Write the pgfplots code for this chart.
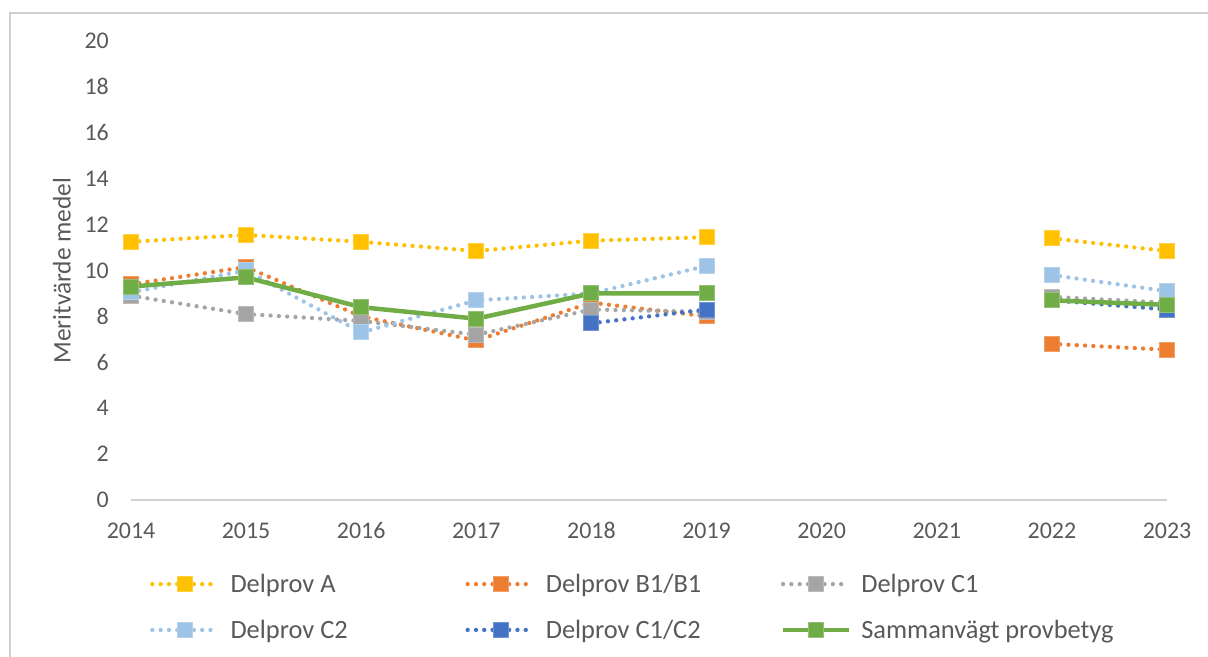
\documentclass[border=0pt]{standalone}
\usepackage{pgfplots}
\pgfplotsset{compat=1.18}
\usepackage{fontspec}
\setmainfont{Carlito}
\definecolor{txt}{HTML}{595959}
\definecolor{cA}{HTML}{FFC000}
\definecolor{cB}{HTML}{ED7D31}
\definecolor{cC}{HTML}{A5A5A5}
\definecolor{cD}{HTML}{9DC3E6}
\definecolor{cE}{HTML}{4472C4}
\definecolor{cF}{HTML}{70AD47}
\definecolor{frame}{HTML}{D0D0D0}
\begin{document}
\begin{tikzpicture}[x=1bp,y=1bp]
\useasboundingbox (0,0) rectangle (1208,657);
\draw[frame, line width=1.5bp] (10,-5) -- (10,644) -- (1215,644);
\begin{axis}[
  at={(131bp,157bp)}, anchor=south west,
  scale only axis, width=1036bp, height=459bp,
  xmin=0, xmax=9, ymin=0, ymax=20,
  enlargelimits=false,
  unbounded coords=jump,
  axis y line*=left,
  axis x line*=bottom,
  y axis line style={draw=none},
  x axis line style={draw=frame, line width=1.5bp, -},
  xtick={0,...,9},
  xticklabels={2014,2015,2016,2017,2018,2019,2020,2021,2022,2023},
  ytick={0,2,...,20},
  major tick length=0pt,
  /pgf/number format/assume math mode=true,
  every tick label/.append style={font=\fontsize{24}{28}\selectfont, text=txt},
  xticklabel style={anchor=base, inner sep=0pt, yshift=-39bp},
  yticklabel style={anchor=east, inner sep=0pt, xshift=-22bp},
  ylabel={Meritvärde medel},
  ylabel style={at={(axis description cs:0,0.5)}, anchor=center, rotate=0, yshift=69bp, font=\fontsize{25.5}{30}\selectfont, text=txt},
  legend columns=3,
  legend style={at={(axis description cs:0,0)}, anchor=north west, xshift=19bp, yshift=-74bp,
    draw=none, fill=none, inner sep=0pt, row sep=26bp,
    nodes={inner sep=0pt, text=txt, font=\fontsize{26.5}{30}\selectfont},
    /tikz/every odd column/.append style={column sep=10bp},
    /tikz/every even column/.append style={column sep=0bp}},
  legend cell align=left,
  legend image code/.code={\draw[mark repeat=2,mark phase=2,#1] plot coordinates {(0bp,0bp) (33bp,0bp) (66bp,0bp)};},
  dotline/.style={line width=4.3bp, dash pattern=on 0pt off 8.3bp, line cap=round},
  sq/.style={mark=square*, mark size=7.5bp, mark options={solid, line width=1bp, line cap=butt, line join=miter, fill=#1, draw=#1!75!white}},
]
\addplot[cA, dotline, sq=cA] coordinates {(0,11.25) (1,11.55) (2,11.25) (3,10.85) (4,11.3) (5,11.45) (6,nan) (7,nan) (8,11.4) (9,10.85)};
\addlegendentry{\makebox[235bp][l]{Delprov A}}
\addplot[cB, dotline, sq=cB] coordinates {(0,9.4) (1,10.15) (2,8.0) (3,6.95) (4,8.6) (5,8.0) (6,nan) (7,nan) (8,6.8) (9,6.55)};
\addlegendentry{\makebox[235bp][l]{Delprov B1/B1}}
\addplot[cC, dotline, sq=cC] coordinates {(0,8.9) (1,8.1) (2,7.8) (3,7.2) (4,8.3) (5,8.2) (6,nan) (7,nan) (8,8.85) (9,8.6)};
\addlegendentry{\makebox[235bp][l]{Delprov C1}}
\addplot[cD, dotline, sq=cD] coordinates {(0,9.05) (1,10.0) (2,7.3) (3,8.7) (4,9.0) (5,10.2) (6,nan) (7,nan) (8,9.8) (9,9.1)};
\addlegendentry{\makebox[235bp][l]{Delprov C2}}
\addplot[cE, dotline, sq=cE] coordinates {(0,nan) (1,nan) (2,nan) (3,nan) (4,7.7) (5,8.3) (6,nan) (7,nan) (8,8.7) (9,8.3)};
\addlegendentry{\makebox[235bp][l]{Delprov C1/C2}}
\addplot[cF, line width=4.5bp, sq=cF] coordinates {(0,9.3) (1,9.7) (2,8.4) (3,7.9) (4,9.0) (5,9.0) (6,nan) (7,nan) (8,8.7) (9,8.5)};
\addlegendentry{\makebox[235bp][l]{Sammanvägt provbetyg}}
\end{axis}
\end{tikzpicture}
\end{document}
